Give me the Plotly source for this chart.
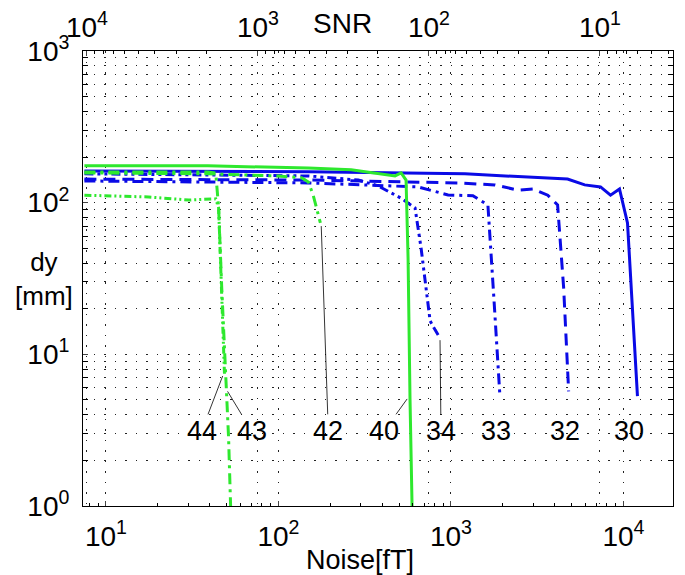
import math
import plotly.graph_objects as go

# ---- data (Noise [fT], dy [mm]) ----
c30_noise = [7.5, 149, 1205, 4740, 5960, 7360, 8410, 9480, 10550, 12050]
c30_dy    = [162, 160, 155, 143, 131, 127, 112, 123, 73.5, 5.3]

c32_noise = [7.5, 149, 1095, 1795, 2440, 2980, 3640, 4150, 4500, 4810]
c32_dy    = [143, 141, 135, 131, 121, 123, 112, 96.6, 27.4, 5.7]

c33_noise = [7.5, 149, 644, 962, 1340, 1470, 1637, 1773, 1920]
c33_dy    = [139, 135, 127, 112.5, 111, 104, 96.6, 23.5, 5.4]

c34_noise = [7.5, 149, 290, 378, 514, 619, 671, 757, 809, 864]
c34_dy    = [155, 150, 141, 129, 107, 92.3, 50.2, 16.6, 14.5, 12.8]

c40_noise = [7.5, 39, 149, 264, 474, 514, 549, 564, 579, 595]
c40_dy    = [175, 175, 169, 165, 150, 157, 141, 43.2, 5.0, 1.0]

c42_noise = [7.5, 39, 100, 136, 149, 159, 175]
c42_dy    = [157, 155, 150, 146, 137, 112, 73.5]

c43_noise = [7.5, 39, 43.3, 45.0, 46.9, 49.4, 51.4, 52.8]
c43_dy    = [159, 159, 157, 92.3, 27.4, 8.1, 2.8, 1.0]

c44_noise = [7.5, 17.7, 30.2, 43.3, 45.0, 46.2, 47.5, 48.7]
c44_dy    = [112, 109, 104, 106, 92.3, 37.2, 14.9, 7.2]

noise_ticks = [10, 100, 1000, 10000]
noise_ticktext = ["10<sup>1</sup>", "10<sup>2</sup>", "10<sup>3</sup>", "10<sup>4</sup>"]
snr_ticks = [1e4, 1e3, 1e2, 1e1]
snr_ticktext = ["10<sup>4</sup>", "10<sup>3</sup>", "10<sup>2</sup>", "10<sup>1</sup>"]
dy_ticks = [1, 10, 100, 1000]
dy_ticktext = ["10<sup>0</sup>", "10<sup>1</sup>", "10<sup>2</sup>", "10<sup>3</sup>"]

labels       = ["44", "43", "42", "40", "34", "33", "32", "30"]
label_noise  = [35.9, 69.8, 194.5, 410, 875, 1820, 4560, 10800]
label_dy     = [3.13] * 8
target_noise = [47.5, 50.7, 177, 557, 864, None, None, None]
target_dy    = [7.2, 5.7, 70.1, 5.08, 12.4, None, None, None]

BLUE = "#0a0ae6"
GREEN = "#2ee82e"
FONT = "Liberation Sans, Arial, sans-serif"

fig = go.Figure()

series = [
    (c30_noise, c30_dy, BLUE, "solid", 3),
    (c32_noise, c32_dy, BLUE, "12px,7px", 3),
    (c33_noise, c33_dy, BLUE, "11px,5px,3px,5px", 3),
    (c34_noise, c34_dy, BLUE, "9px,4px,3px,4px,3px,4px", 3),
    (c40_noise, c40_dy, GREEN, "solid", 3),
    (c42_noise, c42_dy, GREEN, "11px,5px,3px,5px", 3),
    (c43_noise, c43_dy, GREEN, "11px,5px,3px,5px", 3),
    (c44_noise, c44_dy, GREEN, "7px,3px,2px,3px,2px,3px", 3),
]
for xs, ys, col, dash, w in series:
    fig.add_trace(go.Scatter(x=xs, y=ys, mode="lines",
                             line=dict(color=col, dash=dash, width=w),
                             showlegend=False, hoverinfo="skip"))

# dummy trace to carry the SNR axis
fig.add_trace(go.Scatter(x=snr_ticks, y=[None] * len(snr_ticks), xaxis="x2",
                         mode="lines", showlegend=False, hoverinfo="skip"))

grid_dash = "1.5px,9px"
grid_col = "#222222"
tick_font = dict(family=FONT, size=28, color="black")

minor_x = dict(ticks="inside", ticklen=3, tickcolor="black", showgrid=False, dtick="D1")
minor_y = dict(ticks="inside", ticklen=3, tickcolor="black", showgrid=True,
               gridcolor=grid_col, griddash=grid_dash, gridwidth=1, dtick="D1")

fig.update_layout(
    width=685, height=575,
    margin=dict(l=75, r=20, t=43, b=77, autoexpand=False),
    paper_bgcolor="white", plot_bgcolor="white",
    font=dict(family=FONT, color="black", size=28),
    xaxis=dict(type="log", range=[0.867, 4.287], showline=True, linecolor="black",
               linewidth=1, mirror=False, ticks="inside", ticklen=5, automargin=False,
               tickvals=noise_ticks, ticktext=noise_ticktext,
               showgrid=True, gridcolor=grid_col, griddash=grid_dash, gridwidth=1,
               minor=minor_x, tickfont=tick_font, zeroline=False, ticklabelstandoff=5),
    xaxis2=dict(type="log", overlaying="x", side="top", range=[4.023, 0.573],
                showline=True, linecolor="black", linewidth=1, ticks="inside", ticklen=5,
                automargin=False, tickvals=snr_ticks, ticktext=snr_ticktext,
                showgrid=True, gridcolor=grid_col, griddash=grid_dash, gridwidth=1,
                minor=minor_x, tickfont=tick_font, zeroline=False, ticklabelstandoff=2),
    yaxis=dict(type="log", range=[0, 3], showline=True, linecolor="black", linewidth=1,
               mirror="allticks", ticks="inside", ticklen=5, automargin=False,
               tickvals=dy_ticks, ticktext=dy_ticktext,
               showgrid=True, gridcolor=grid_col, griddash=grid_dash, gridwidth=1,
               minor=minor_y, tickfont=tick_font, zeroline=False, ticklabelstandoff=7),
)

# axis titles as text
fig.add_annotation(text="dy<br>[mm]", xref="paper", yref="paper", x=-0.066, y=0.5,
                   xanchor="center", yanchor="middle", showarrow=False,
                   font=dict(family=FONT, size=26), align="center")
fig.add_annotation(text="SNR", xref="paper", yref="paper", x=0.44, y=1.0,
                   yshift=28, xanchor="center", yanchor="middle", showarrow=False,
                   font=dict(family=FONT, size=28))
fig.add_annotation(text="Noise[fT]", xref="paper", yref="paper", x=0.469, y=0.0,
                   yshift=-54, xanchor="center", yanchor="middle", showarrow=False,
                   font=dict(family=FONT, size=27))

for lab, lx, ly, tx, ty in zip(labels, label_noise, label_dy, target_noise, target_dy):
    if tx is None:
        fig.add_annotation(text=lab, x=math.log10(lx), y=math.log10(ly),
                           xref="x", yref="y", showarrow=False,
                           font=dict(family=FONT, size=27))
    else:
        fig.add_annotation(text=lab, x=math.log10(tx), y=math.log10(ty),
                           ax=math.log10(lx), ay=math.log10(ly),
                           axref="x", ayref="y", xref="x", yref="y",
                           showarrow=True, arrowhead=0, arrowwidth=0.8,
                           arrowcolor="black", standoff=0,
                           font=dict(family=FONT, size=27))

fig.write_html("out.html")
